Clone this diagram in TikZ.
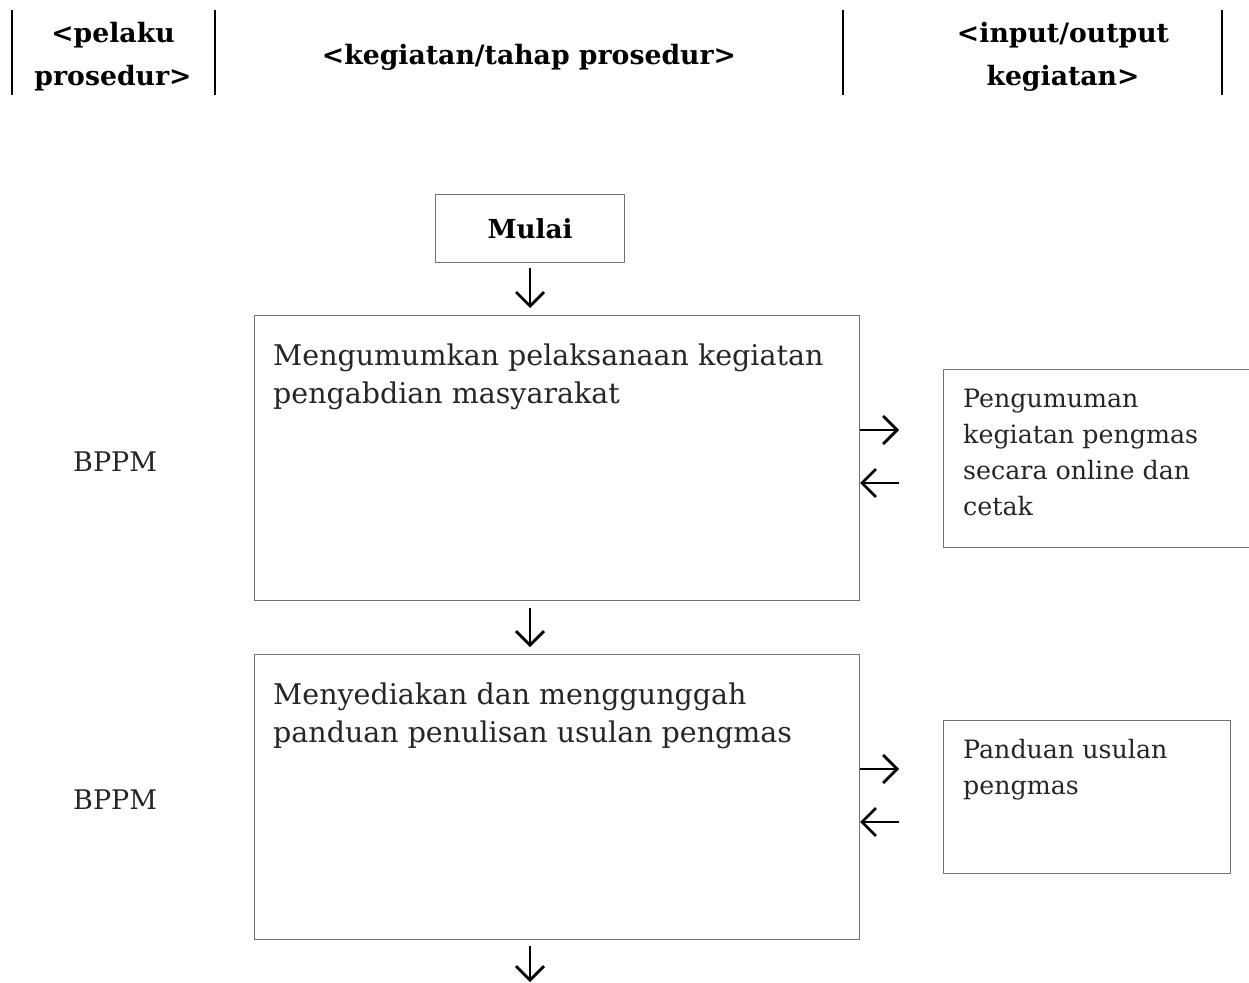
\documentclass[tikz,border=0pt]{standalone}
\usepackage{fontspec}
\setmainfont{DejaVu Serif}
\usetikzlibrary{arrows.meta}
\begin{document}
\begin{tikzpicture}[x=1pt,y=-1pt,
  box/.style={draw=black!55, line width=1pt, inner sep=0, anchor=north west},
  hdr/.style={font=\fontsize{26.7}{43}\selectfont\bfseries, align=center, inner sep=0},
  body/.style={font=\fontsize{28.5}{38}\selectfont, align=left, anchor=base west, inner sep=0, text=black!85},
  outtxt/.style={font=\fontsize{25.3}{36}\selectfont, align=left, anchor=base west, inner sep=0, text=black!85},
  actor/.style={font=\fontsize{27}{30}\selectfont, anchor=base west, inner sep=0, text=black!85},
  flow/.style={-{Straight Barb[length=14pt,width=28pt]}, line width=2.7pt},
  sep/.style={line width=1.3pt}]
\useasboundingbox (0,0) rectangle (1249,982);
% header
\draw[sep] (12,10) -- (12,95);
\draw[sep] (215,10) -- (215,95);
\draw[sep] (843,10) -- (843,95);
\draw[sep] (1222,10) -- (1222,95);
\node[hdr] (h1) at (113,57) {<pelaku\\prosedur>};
\node[hdr] (h2) at (529,57) {<kegiatan/tahap prosedur>};
\node[hdr] (h3) at (1063,57) {<input/output\\kegiatan>};
% start
\node[box, minimum width=189pt, minimum height=68pt] (mulai) at (435,194) {};
\node[font=\fontsize{26.2}{30}\selectfont\bfseries] (mulaitxt) at (mulai.center) {Mulai};
% step 1
\node[box, minimum width=605pt, minimum height=285pt] (b1) at (254,315) {};
\node[body] (t1) at (273,403) {Mengumumkan pelaksanaan kegiatan\\pengabdian masyarakat};
\node[actor] (a1) at (73,471) {BPPM};
\node[box, minimum width=320pt, minimum height=178pt] (o1) at (943,369) {};
\node[outtxt] (u1) at (963,515) {Pengumuman\\kegiatan pengmas\\secara online dan\\cetak};
% step 2
\node[box, minimum width=605pt, minimum height=285pt] (b2) at (254,654) {};
\node[body] (t2) at (273,742) {Menyediakan dan menggunggah\\panduan penulisan usulan pengmas};
\node[actor] (a2) at (73,809) {BPPM};
\node[box, minimum width=287pt, minimum height=153pt] (o2) at (943,720) {};
\node[outtxt] (u2) at (963,794) {Panduan usulan\\pengmas};
% arrows
\draw[flow] ([yshift=-5pt]mulai.south) -- ([yshift=7pt]b1.north -| mulai.south);
\draw[flow] ([yshift=-7pt]b1.south -| mulai.south) -- ([yshift=7pt]b2.north -| mulai.south);
\coordinate (end3) at (530,982);
\draw[flow] ([yshift=-6pt]b2.south -| mulai.south) -- (end3);
\coordinate (r1) at (899,430);
\coordinate (l1) at (899,483);
\draw[flow] (b1.east |- r1) -- (r1);
\draw[flow] (l1) -- (b1.east |- l1);
\coordinate (r2) at (899,769);
\coordinate (l2) at (899,822);
\draw[flow] (b2.east |- r2) -- (r2);
\draw[flow] (l2) -- (b2.east |- l2);
\end{tikzpicture}
\end{document}
